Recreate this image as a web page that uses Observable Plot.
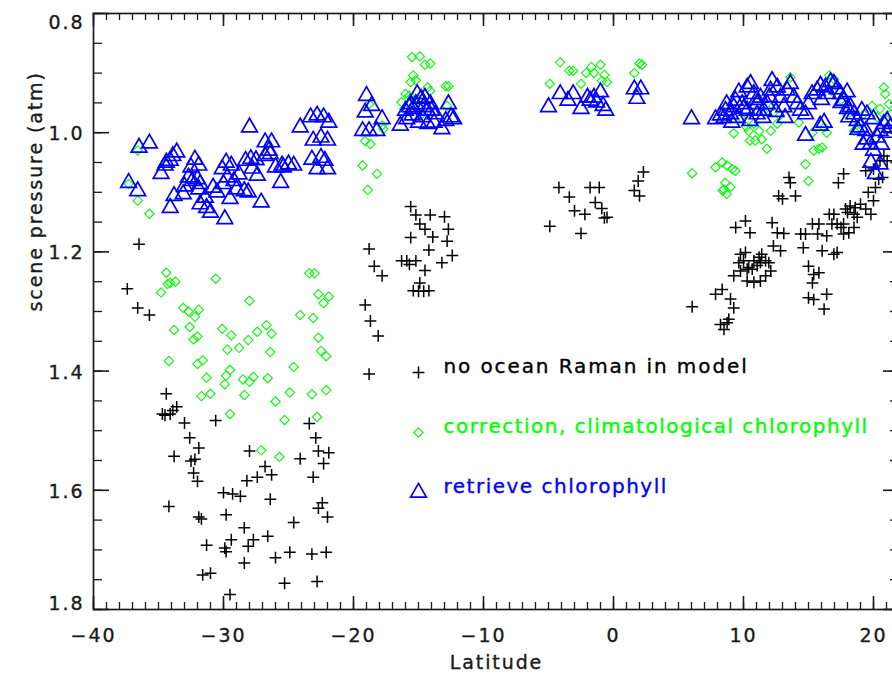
<!DOCTYPE html>
<html>
<head>
<meta charset="utf-8">
<script src="https://cdn.jsdelivr.net/npm/d3@7"></script>
<script src="https://cdn.jsdelivr.net/npm/@observablehq/plot@0.6"></script>
<style>
  html, body { margin: 0; padding: 0; background: #fff; overflow: hidden; }
  #chart svg { max-width: none !important; }
  #chart svg text { letter-spacing: 1.9px; }
  #chart svg g[fill="#00ff00"] text, #chart svg g[fill="#0000ff"] text { letter-spacing: 1.5px; }
</style>
</head>
<body>
<div id="chart"></div>
<script>
// ---- data: [latitude, scene pressure (atm)] ----
const noRaman = [
  [-36.5,1.187],[-37.4,1.262],[-36.6,1.294],[-35.7,1.306],
  [-34.4,1.438],[-33.6,1.46],[-34.7,1.472],[-34.5,1.474],[-34.1,1.472],[-33.9,1.466],[-33.0,1.487],[-30.6,1.483],
  [-32.6,1.512],[-31.9,1.529],[-33.8,1.543],[-32.5,1.551],[-32.2,1.548],[-32.3,1.571],[-32.0,1.585],[-34.2,1.627],
  [-31.9,1.645],[-31.7,1.648],[-31.3,1.692],[-31.6,1.742],[-31.0,1.739],[-29.5,1.775],[-30.0,1.604],[-29.3,1.606],
  [-28.7,1.610],[-29.8,1.641],[-29.4,1.683],[-29.9,1.697],[-29.8,1.703],[-28.4,1.663],[-27.7,1.683],[-28.1,1.694],
  [-28.4,1.722],[-28.0,1.534],[-28.2,1.584],[-27.4,1.578],[-26.8,1.560],[-26.3,1.574],[-26.4,1.615],[-26.6,1.677],
  [-26.0,1.713],[-24.9,1.704],[-25.3,1.756],[-24.6,1.654],[-24.1,1.547],[-23.4,1.488],[-22.9,1.512],[-22.7,1.534],
  [-21.9,1.537],[-22.3,1.555],[-23.1,1.578],[-22.4,1.621],[-22.7,1.630],[-22.0,1.645],[-23.2,1.707],[-22.1,1.704],
  [-22.8,1.753],
  [-18.8,1.195],[-18.4,1.224],[-17.8,1.240],[-19.1,1.289],[-18.7,1.316],[-18.1,1.341],[-18.8,1.405],
  [-15.6,1.124],[-15.2,1.138],[-14.1,1.138],[-13.0,1.141],[-14.9,1.153],[-14.5,1.162],[-13.9,1.175],[-12.7,1.162],
  [-15.6,1.176],[-12.8,1.182],[-14.2,1.197],[-12.4,1.206],[-16.3,1.215],[-15.9,1.215],[-15.2,1.215],[-15.7,1.221],
  [-14.5,1.231],[-13.2,1.218],[-14.9,1.252],[-15.4,1.265],[-15.0,1.266],[-14.6,1.266],[-14.2,1.265],
  [-4.2,1.092],[-3.4,1.108],[-3.0,1.131],[-2.2,1.137],[-1.8,1.092],[-1.1,1.092],[-1.4,1.117],[-0.9,1.127],
  [-0.7,1.143],[-0.5,1.142],[-4.9,1.157],[-2.5,1.169],[1.6,1.097],[2.0,1.106],[1.9,1.081],[2.3,1.066],
  [6.05,1.292],[7.85,1.271],[8.36,1.263],[9.0,1.279],[9.25,1.294],[8.23,1.322],[8.74,1.319],[8.5,1.330],[8.87,1.313],
  [9.4,1.159],[10.15,1.148],[10.5,1.168],
  [9.77,1.204],[10.15,1.201],[9.64,1.218],[10.0,1.215],[10.4,1.226],[10.8,1.215],[11.2,1.209],[11.4,1.204],
  [9.77,1.232],[10.28,1.229],[10.67,1.229],[11.05,1.223],[11.3,1.218],[11.7,1.215],[11.95,1.218],[12.1,1.232],
  [11.7,1.240],[11.3,1.249],[10.8,1.251],[10.28,1.249],[9.25,1.240],
  [12.2,1.151],[12.6,1.168],[13.1,1.169],[12.3,1.190],[12.85,1.198],
  [13.5,1.075],[13.6,1.084],[12.7,1.106],[13.0,1.111],[14.0,1.106],
  [14.4,1.170],[14.77,1.170],[15.3,1.153],[15.8,1.153],[15.7,1.170],[16.4,1.173],[16.6,1.137],[16.95,1.137],
  [17.2,1.153],[17.7,1.153],[17.2,1.201],[16.95,1.204],[16.05,1.198],[14.6,1.193],
  [15.0,1.224],[15.4,1.238],[15.8,1.235],[15.3,1.252],[15.0,1.277],[15.4,1.280],[16.4,1.271],[16.2,1.296],
  [17.3,1.084],[17.7,1.069],
  [17.85,1.128],[18.2,1.123],[18.6,1.126],[19.0,1.120],[19.4,1.128],[18.5,1.137],[18.0,1.134],[18.75,1.142],
  [19.4,1.064],[20.0,1.061],[19.6,1.100],[20.15,1.092],[19.8,1.137],[20.0,1.114],
  [18.1,1.168],[17.7,1.170],[18.5,1.159],[16.8,1.153],[17.5,1.159],
  [20.5,1.047],[20.8,1.039],[21.05,1.047],[20.7,1.075],[20.4,1.078]
];

const climChl = [
  [-36.6,1.030],[-37.3,1.086],[-36.6,1.114],[-35.7,1.136],
  [-34.4,1.235],[-34.1,1.252],[-33.7,1.250],[-34.3,1.254],[-34.8,1.268],[-30.6,1.245],[-33.1,1.294],[-32.7,1.300],
  [-32.2,1.309],[-31.9,1.297],[-33.8,1.331],[-32.6,1.326],[-32.3,1.347],[-32.0,1.342],[-34.2,1.383],[-32.0,1.388],
  [-31.6,1.382],[-31.3,1.411],[-31.7,1.442],[-31.0,1.438],[-30.1,1.329],[-29.4,1.340],[-29.7,1.364],[-28.8,1.361],
  [-29.5,1.398],[-29.8,1.408],[-29.9,1.422],[-29.5,1.472],[-28.0,1.282],[-28.1,1.348],[-27.4,1.334],[-26.7,1.323],
  [-26.3,1.337],[-26.4,1.368],[-28.5,1.414],[-28.0,1.418],[-27.7,1.410],[-26.6,1.412],[-28.4,1.440],[-26.0,1.451],
  [-24.9,1.436],[-24.6,1.393],[-25.3,1.482],[-27.1,1.533],[-25.7,1.544],[-24.1,1.306],[-23.4,1.236],[-23.0,1.236],
  [-22.7,1.271],[-21.9,1.275],[-22.3,1.286],[-23.1,1.311],[-22.7,1.344],[-22.5,1.366],[-22.1,1.375],[-23.2,1.439],
  [-22.1,1.432],[-22.8,1.477],
  [-15.5,0.873],[-14.9,0.872],[-14.5,0.886],[-14.1,0.884],[-15.4,0.904],[-15.2,0.912],[-15.6,0.915],[-16.0,0.935],
  [-15.7,0.938],[-16.3,0.949],[-14.3,0.924],[-14.1,0.930],[-12.9,0.922],[-12.7,0.922],[-12.8,0.955],[-17.8,0.988],
  [-17.7,0.994],[-19.1,1.014],[-18.7,1.019],[-19.3,1.055],[-18.2,1.069],[-18.9,1.096],[-16.1,0.960],[-14.8,0.970],
  [-18.8,0.952],[-15.0,0.945],
  [-4.1,0.882],[-4.9,0.918],[-3.4,0.896],[-3.1,0.896],[-2.5,0.918],[-2.1,0.900],[-1.7,0.890],[-1.0,0.886],
  [-1.5,0.900],[-0.7,0.903],[-0.5,0.915],[-0.9,0.913],[1.6,0.900],[2.0,0.884],[2.2,0.886],
  [6.05,1.068],
  [7.85,1.058],[8.36,1.050],[8.74,1.055],[9.13,1.061],[9.38,1.064],[8.6,1.084],[9.0,1.091],[8.4,1.097],[8.7,1.103],
  [8.5,1.095],[9.25,1.001],[10.4,0.997],[10.8,0.985],[11.2,0.997],[10.5,1.013],[10.9,1.013],[11.4,1.011],
  [11.8,1.027],[12.1,0.997],[12.6,0.985],[12.8,0.971],[13.6,0.907],[14.25,0.983],[14.77,1.053],[15.0,1.081],
  [15.4,1.030],[15.8,1.027],[16.05,1.025],[15.3,1.000],[16.4,1.000],[16.2,0.991],[16.6,0.904],[16.95,0.910],
  [18.5,0.997],[18.9,0.985],[19.25,0.969],[19.9,0.955],[20.3,0.974],[20.5,0.960],[20.8,0.924],[20.9,0.935],
  [21.2,0.952],[21.3,0.969],[9.8,0.975],[11.5,0.965],[12.3,0.955],[16.8,0.930],[17.5,0.945],[18.0,0.970],[10.2,0.990]
];

const retrieveChl = [
  [-36.5,1.025],[-35.7,1.018],[-37.3,1.084],[-36.6,1.098],[-33.6,1.033],[-33.9,1.039],[-34.1,1.047],[-34.4,1.050],
  [-34.5,1.055],[-34.8,1.069],[-32.2,1.045],[-31.9,1.055],[-32.5,1.058],[-32.7,1.075],[-32.0,1.078],[-32.4,1.081],
  [-31.8,1.086],[-33.8,1.106],[-34.1,1.126],[-33.1,1.103],[-31.9,1.095],[-31.4,1.109],[-31.8,1.120],[-31.3,1.126],
  [-31.0,1.134],[-29.9,1.145],[-30.8,1.092],[-29.8,1.050],[-30.1,1.061],[-29.4,1.055],[-29.7,1.075],[-29.2,1.081],
  [-30.0,1.086],[-29.5,1.111],[-29.0,1.095],[-28.4,1.098],[-28.1,1.100],[-28.3,1.047],[-27.9,1.044],[-27.5,1.046],
  [-27.4,1.072],[-28.0,0.991],[-26.8,1.016],[-26.3,1.016],[-26.5,1.030],[-26.4,1.036],[-26.8,1.039],[-26.0,1.058],
  [-25.5,1.055],[-25.6,1.084],[-25.0,1.053],[-24.6,1.055],[-25.4,1.058],[-27.1,1.117],[-24.1,0.991],[-23.3,0.974],
  [-22.8,0.971],[-22.3,0.974],[-21.9,0.983],[-23.1,1.013],[-22.5,1.008],[-22.0,1.013],[-23.2,1.045],[-22.5,1.042],
  [-22.2,1.047],[-22.8,1.061],[-22.0,1.061],[-33.0,1.090],[-30.5,1.100],[-28.8,1.070],[-27.8,1.060],
  [-19.0,0.938],[-18.6,0.955],[-19.1,0.966],[-19.3,0.997],[-18.8,0.997],[-18.2,0.997],[-17.8,0.977],
  [-16.4,0.988],[-15.9,0.977],[-15.5,0.971],[-15.7,0.957],[-15.2,0.952],[-14.8,0.943],[-15.1,0.935],[-14.5,0.941],
  [-14.1,0.952],[-14.3,0.963],[-14.0,0.963],[-14.7,0.974],[-14.3,0.985],[-13.8,0.983],[-13.2,0.994],[-12.9,0.980],
  [-12.5,0.974],[-12.7,0.952],[-12.3,0.977],[-16.0,0.963],[-15.4,0.960],[-14.6,0.957],[-13.7,0.969],[-15.6,0.952],
  [-15.0,0.983],
  [-5.0,0.957],[-4.1,0.935],[-3.5,0.946],[-3.1,0.935],[-2.5,0.960],[-2.0,0.941],[-1.5,0.941],[-1.0,0.932],
  [-1.3,0.949],[-0.8,0.955],[-0.6,0.963],[-1.8,0.946],[1.6,0.927],[2.1,0.927],[1.8,0.943],
  [6.0,0.977],
  [7.85,0.977],[8.23,0.971],[8.62,0.963],[9.0,0.969],[9.25,0.957],[9.38,0.946],[9.64,0.932],[9.9,0.952],
  [10.28,0.924],[10.54,0.918],[10.79,0.935],[11.05,0.952],[11.3,0.941],[11.56,0.963],[11.82,0.952],[12.08,0.929],
  [12.2,0.913],[12.6,0.924],[12.85,0.941],[13.1,0.957],[13.36,0.929],[13.6,0.918],[13.87,0.941],[14.13,0.952],
  [14.38,0.963],[14.77,0.969],[15.0,0.952],[15.28,0.935],[15.67,0.929],[15.92,0.921],[16.3,0.924],[16.7,0.915],
  [16.95,0.918],[17.2,0.927],[17.46,0.935],[17.7,0.946],[17.97,0.932],[18.23,0.957],[18.5,0.969],[18.75,0.980],
  [19.0,0.991],[19.4,0.997],[19.5,1.011],[19.77,1.019],[20.0,1.030],[20.3,1.008],[20.5,0.997],[20.8,0.985],
  [21.05,0.980],[21.3,0.991],[20.0,0.977],[19.5,0.969],[19.1,0.963],[18.1,0.974],[14.77,1.005],[15.9,0.988],
  [16.2,0.983],[9.1,0.983],[8.7,0.952],[10.3,0.963],[11.05,0.969],[20.5,1.053],[20.15,1.069],
  [8.5,0.975],[9.5,0.975],[10.5,0.980],[11.5,0.975],[12.5,0.965],[13.2,0.975],[10.0,0.960],[11.0,0.945],
  [12.0,0.940],[16.0,0.945],[16.5,0.935],[17.5,0.950],[18.0,0.960],[18.8,0.995],[19.2,1.020],[19.8,1.050],
  [20.6,1.020],[21.0,1.000]
];

const xMajor = [-40, -30, -20, -10, 0, 10, 20];
const xMinor = d3.range(-40, 23, 1);
const yMajor = [0.8, 1.0, 1.2, 1.4, 1.6, 1.8];
const yMinor = d3.range(16, 37).map(v => v * 0.05);

const legendLabels = ["no ocean Raman in model", "correction, climatological chlorophyll", "retrieve chlorophyll"];
const legendColors = ["#000000", "#00ff00", "#0000ff"];
const legendSymbols = ["plus", "diamond2", "triangle2"];
const symbolR = [3.9, 4.2, 7.5];
const symbolW = [1.5, 1.1, 1.7];

const xTitle = "Latitude";
const yTitle = "scene pressure (atm)";

// ---- layout ----
const W = 908, H = 675;
const mL = 93, mR = 9, mT = 13, mB = 66;
const fw = W - mL - mR, fh = H - mT - mB;   // frame size in px
const ink = "#1a1a1a";
const fmtY = d3.format(".1f");
const fmtX = d => (d < 0 ? "\u2212" + Math.abs(d) : String(d));

const series = [noRaman, climChl, retrieveChl];

const tickStyle = (w) => ({stroke: ink, strokeWidth: w});
const yLabelStyle = {anchor: "left", tickSize: 0, tickPadding: 9, tickFormat: fmtY, fontSize: 19, fill: ink,
                     textStroke: ink, textStrokeWidth: 0.35, label: null};
const marks = [
  // inward ticks drawn as rules inset from the frame edges
  Plot.ruleX(xMajor, {x: d => d, insetTop: fh - 13, ...tickStyle(1.6)}),
  Plot.ruleX(xMinor, {x: d => d, insetTop: fh - 7, ...tickStyle(1.3)}),
  Plot.ruleX(xMajor, {x: d => d, insetBottom: fh - 13, ...tickStyle(1.6)}),
  Plot.ruleX(xMinor, {x: d => d, insetBottom: fh - 7, ...tickStyle(1.3)}),
  Plot.ruleY(yMajor, {y: d => d, insetRight: fw - 16, ...tickStyle(1.6)}),
  Plot.ruleY(yMinor, {y: d => d, insetRight: fw - 9, ...tickStyle(1.3)}),
  Plot.ruleY(yMajor, {y: d => d, insetLeft: fw - 16, ...tickStyle(1.6)}),
  Plot.ruleY(yMinor, {y: d => d, insetLeft: fw - 9, ...tickStyle(1.3)}),
  Plot.frame({stroke: ink, strokeWidth: 1.7}),
  // tick labels (end labels nudged inside the frame extent, as in the original)
  Plot.axisX({anchor: "bottom", ticks: xMajor, tickSize: 0, tickPadding: 19, tickFormat: fmtX,
              fontSize: 19, fill: ink, textStroke: ink, textStrokeWidth: 0.35, label: null}),
  Plot.axisY({...yLabelStyle, ticks: yMajor.slice(1, -1), dy: 1.5}),
  Plot.axisY({...yLabelStyle, ticks: yMajor.slice(0, 1), dy: 9}),
  Plot.axisY({...yLabelStyle, ticks: yMajor.slice(-1), dy: -6}),
  // titles
  Plot.text([xTitle], {text: d => d, frameAnchor: "bottom", dy: 53, fontSize: 19, fill: ink,
                       stroke: ink, strokeWidth: 0.35, lineAnchor: "middle"}),
  Plot.text([yTitle], {text: d => d, frameAnchor: "left", dx: -58, rotate: -90, fontSize: 19, fill: ink,
                       stroke: ink, strokeWidth: 0.35, lineAnchor: "middle"}),
];

series.forEach((data, i) => {
  marks.push(Plot.dot(data, {x: d => d[0], y: d => d[1], symbol: legendSymbols[i], r: symbolR[i],
                              stroke: legendColors[i], strokeWidth: symbolW[i], fill: "none"}));
});

legendLabels.forEach((label, i) => {
  marks.push(Plot.dot([label], {frameAnchor: "top-left", dx: 325, dy: 359 + 60 * i, symbol: legendSymbols[i],
                                r: symbolR[i], stroke: legendColors[i], strokeWidth: symbolW[i], fill: "none"}));
  marks.push(Plot.text([label], {text: d => d, frameAnchor: "top-left", dx: 350, dy: 353 + 60 * i,
                                 textAnchor: "start", lineAnchor: "middle", fontSize: 20, fill: legendColors[i],
                                 stroke: legendColors[i], strokeWidth: 0.35}));
});

const chart = Plot.plot({
  width: W, height: H,
  marginLeft: mL, marginRight: mR, marginTop: mT, marginBottom: mB,
  x: {domain: [-40, 22]},
  y: {domain: [0.8, 1.8], reverse: true},
  style: {fontFamily: "'DejaVu Sans', sans-serif", background: "#fff", overflow: "visible"},
  marks
});
document.getElementById("chart").appendChild(chart);
</script>
</body>
</html>
